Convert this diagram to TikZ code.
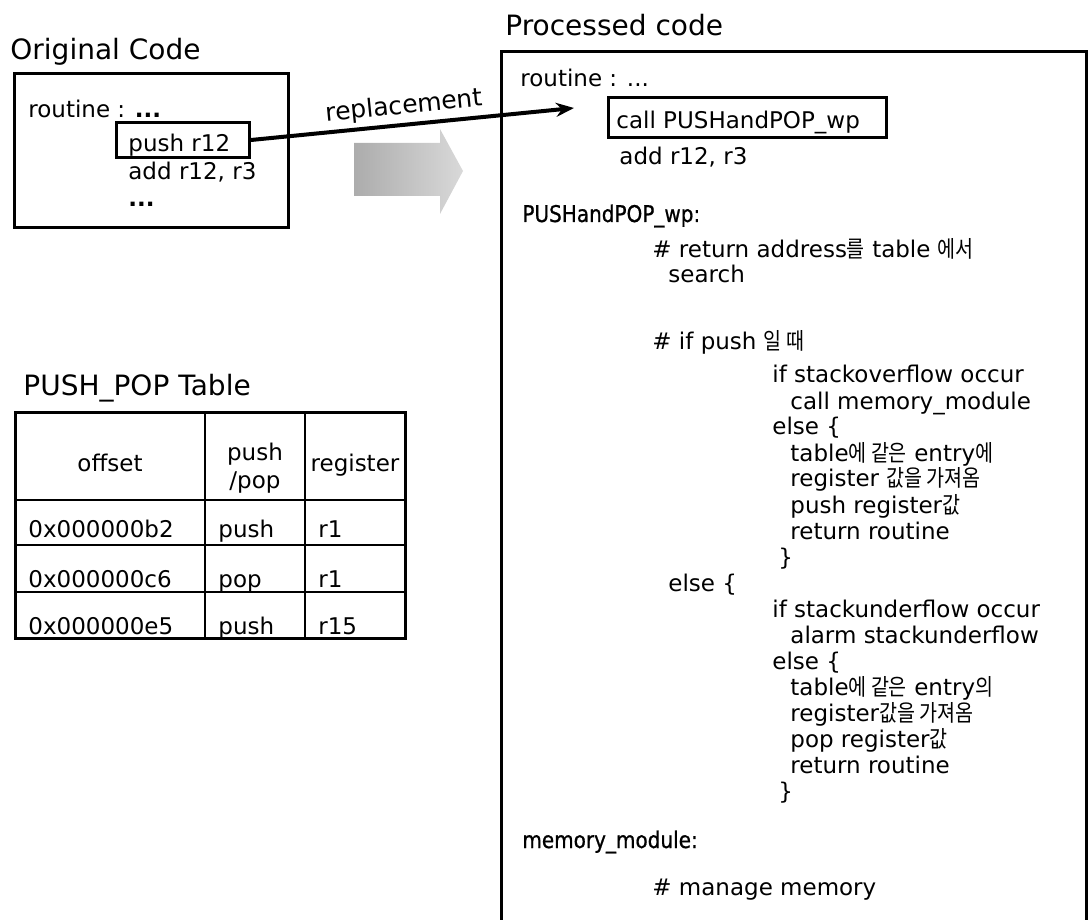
\documentclass[tikz,border=0pt]{standalone}
\usepackage{fontspec}
\setmainfont{DejaVu Sans}
\newfontfamily\hangul{Noto Sans CJK KR}[Scale=1.0, FakeStretch=0.85]
\newfontfamily\labelfont{DejaVu Sans}[FakeStretch=0.87, FakeBold=0.8]
\usetikzlibrary{arrows.meta}
\tikzset{
    > = {Stealth[length=9pt, width=7pt]},
    code/.style = {anchor=base west, inner sep=0pt, font=\fontsize{11.5}{13}\selectfont},
    label/.style = {code, font=\fontsize{11.5}{13}\labelfont},
    heading/.style = {anchor=base west, inner sep=0pt, font=\fontsize{14}{16}\selectfont},
    cell/.style = {anchor=base, inner sep=0pt, font=\fontsize{11.5}{13}\selectfont},
    frame/.style = {draw, line width=1.5pt, anchor=north west, inner sep=0pt}
}

\begin{document}
\begin{tikzpicture}[x=0.5pt, y=-0.5pt]
    \useasboundingbox (0,0) rectangle (1089,920);

    % original code
    \node[heading] (origtitle) at (10,60) {Original Code};
    \node[frame, minimum width=137pt, minimum height=77pt] (orig) at (13,72) {};
    \node[code] (oroutine) at (28,118) {routine : \textbf{...}};
    \node[frame, minimum width=66.5pt, minimum height=17.5pt] (push) at (115,121) {};
    \node[code] (opush) at (128,152) {push r12};
    \node[code] (oadd) at (128,180) {add r12, r3};
    \node[code] (odots) at (128,207) {\textbf{...}};

    % replacement arrow
    \coordinate (tip) at (574,108);
    \draw[line width=2pt, ->] (push.east) -- node[sloped, above=2pt, pos=0.48, inner sep=0pt,
        font=\fontsize{12.5}{14}\selectfont] (repl) {replacement} (tip);
    \shade[left color=gray!65, right color=gray!30]
        (354,143) -- (440,143) -- (440,129) -- (463,171) -- (440,214) -- (440,196) -- (354,196) -- cycle;

    % table
    \node[heading] (tabtitle) at (23,395) {PUSH\_POP Table};
    \draw[line width=1.5pt] (15,412) rectangle (405,638);
    \foreach \y in {500,545,592}
        \draw[line width=0.8pt] (15,\y) -- (405,\y);
    \foreach \x in {205,305}
        \draw[line width=0.8pt] (\x,412) -- (\x,638);
    \node[cell] (hoffset) at (110,472) {offset};
    \node[cell] (hpush) at (255,460) {push};
    \node[cell] (hpop) at (255,488) {/pop};
    \node[cell] (hreg) at (355,472) {register};
    \foreach \y/\off/\op/\reg [count=\i] in {538/0x000000b2/push/r1, 587/0x000000c6/pop/r1, 634/0x000000e5/push/r15} {
        \node[code] (off\i) at (28,\y) {\off};
        \node[code] (op\i) at (218,\y) {\op};
        \node[code] (reg\i) at (318,\y) {\reg};
    }

    % processed code
    \node[heading] (proctitle) at (505,36) {Processed code};
    \node[frame, minimum width=292.5pt, minimum height=440pt] (proc) at (500,50) {};
    \node[code] (proutine) at (520,87) {routine : ...};
    \node[frame, minimum width=139pt, minimum height=20pt] (call) at (607,96) {};
    \node[code] (pcall) at (616,129) {call PUSHandPOP\_wp};
    \node[code] (padd) at (619,165) {add r12, r3};

    \node[label] (wp) at (522,222) {PUSHandPOP\_wp:};
    \node[code] (c1) at (652,258) {\# return address{\hangul 를} table {\hangul 에서}};
    \node[code] (c2) at (668,283) {search};
    \node[code] (c3) at (652,350) {\# if push {\hangul 일 때}};
    \node[code] (c4) at (772,383) {if stackoverflow occur};
    \node[code] (c5) at (790,409) {call memory\_module};
    \node[code] (c6) at (772,435) {else \{};
    \node[code] (c7) at (790,461) {table{\hangul 에 같은} entry{\hangul 에}};
    \node[code] (c8) at (790,487) {register {\hangul 값을 가져옴}};
    \node[code] (c9) at (790,513) {push register{\hangul 값}};
    \node[code] (c10) at (790,539) {return routine};
    \node[code] (c11) at (778,565) {\}};
    \node[code] (c12) at (668,591) {else \{};
    \node[code] (c13) at (772,617) {if stackunderflow occur};
    \node[code] (c14) at (790,643) {alarm stackunderflow};
    \node[code] (c15) at (772,669) {else \{};
    \node[code] (c16) at (790,695) {table{\hangul 에 같은} entry{\hangul 의}};
    \node[code] (c17) at (790,721) {register{\hangul 값을 가져옴}};
    \node[code] (c18) at (790,747) {pop register{\hangul 값}};
    \node[code] (c19) at (790,773) {return routine};
    \node[code] (c20) at (778,799) {\}};

    \node[label] (mm) at (522,848) {memory\_module:};
    \node[code] (c21) at (652,895) {\# manage memory};
\end{tikzpicture}
\end{document}
